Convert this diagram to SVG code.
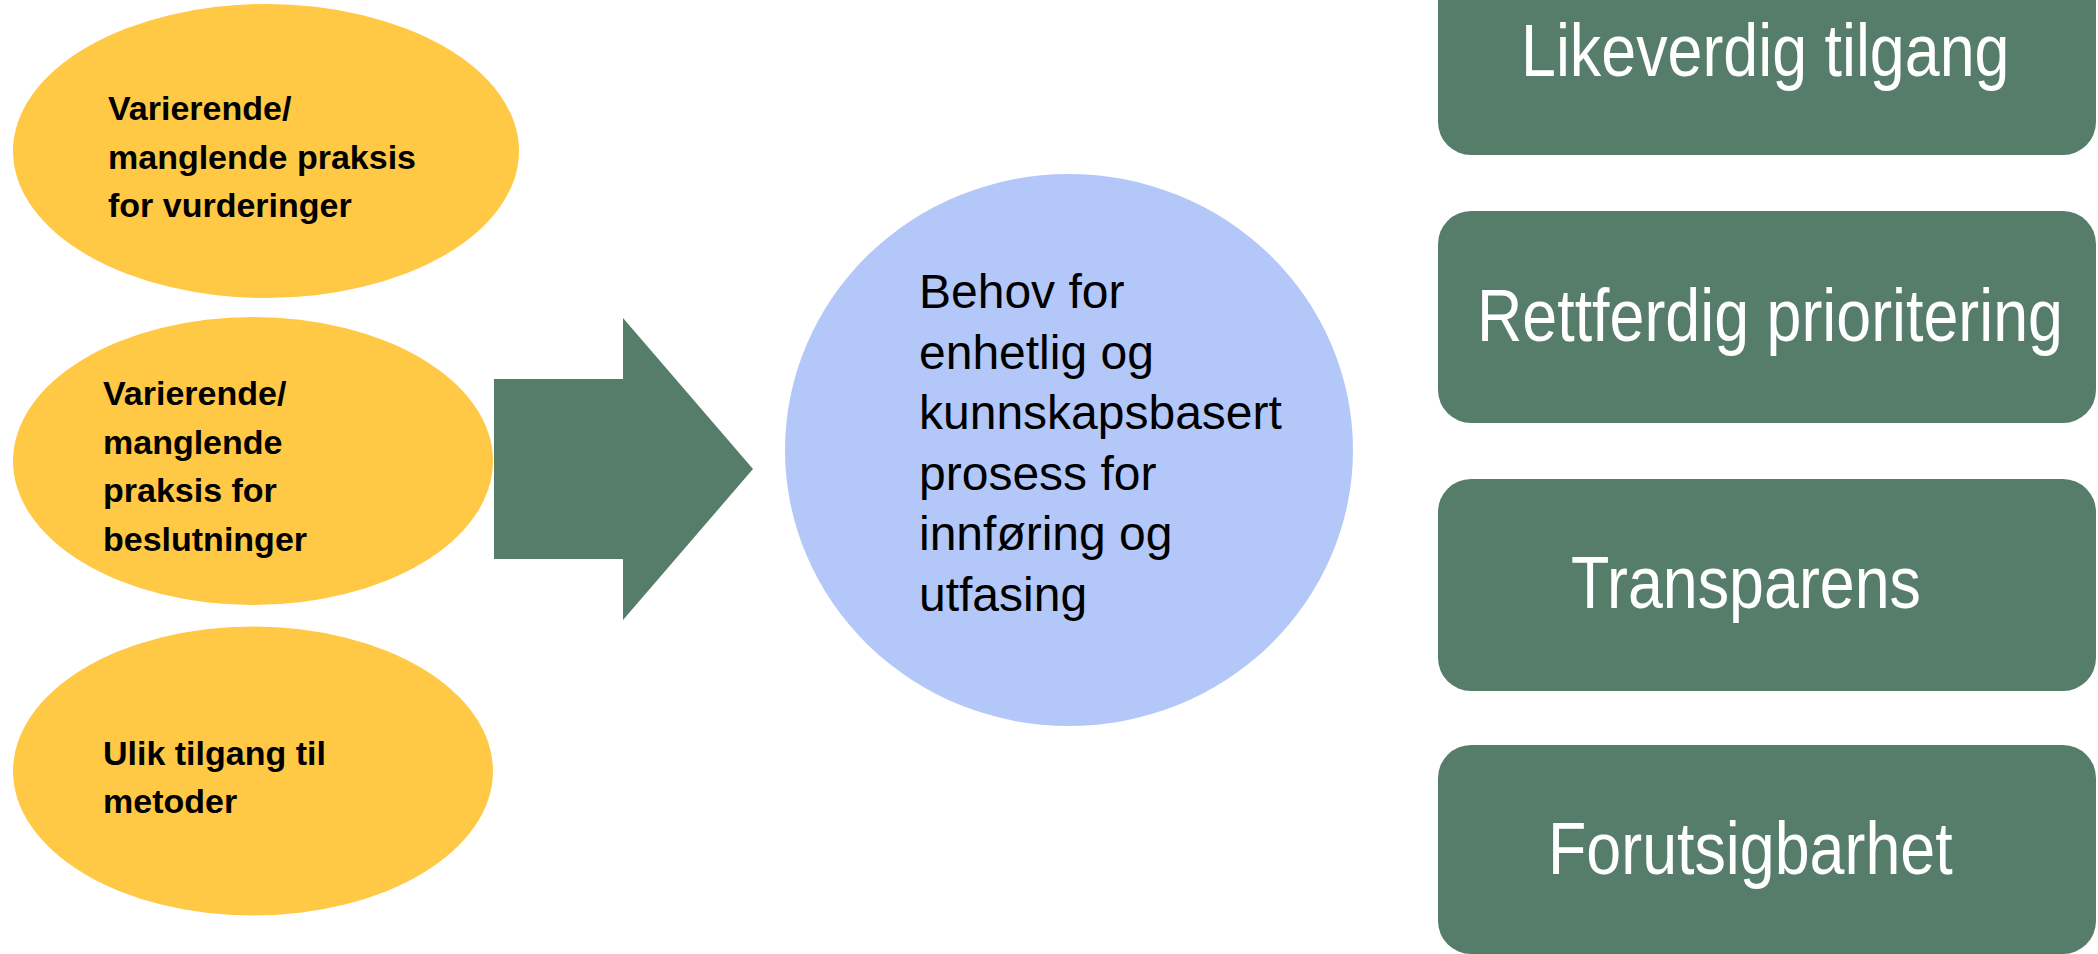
<svg xmlns="http://www.w3.org/2000/svg" width="2098" height="954" viewBox="0 0 2098 954">
<style>
.prob{fill:#FFC845}
.bold{font-family:"Liberation Sans",Arial,sans-serif;font-weight:bold;font-size:34px;fill:#000}
.mid{font-family:"Liberation Sans",Arial,sans-serif;font-size:48px;fill:#000}
.goal{fill:#567D6A}
.gt{font-family:"Liberation Sans",Arial,sans-serif;font-size:75px;fill:#fff}
</style>
<rect width="2098" height="954" fill="#fff"/>
<g id="node-problem1">
<ellipse class="prob" cx="266" cy="151" rx="253" ry="147"/>
<text class="bold"><tspan x="108" y="120">Varierende/</tspan><tspan x="108" y="168.5">manglende praksis</tspan><tspan x="108" y="217">for vurderinger</tspan></text>
</g>
<g id="node-problem2">
<ellipse class="prob" cx="253" cy="461" rx="240" ry="144"/>
<text class="bold"><tspan x="103" y="405">Varierende/</tspan><tspan x="103" y="453.5">manglende</tspan><tspan x="103" y="502">praksis for</tspan><tspan x="103" y="550.5">beslutninger</tspan></text>
</g>
<g id="node-problem3">
<ellipse class="prob" cx="253" cy="771" rx="240" ry="144.5"/>
<text class="bold"><tspan x="103" y="765">Ulik tilgang til</tspan><tspan x="103" y="813">metoder</tspan></text>
</g>
<g id="connectors">
<polygon fill="#567D6A" points="494,379 623,379 623,318 753,469 623,620 623,559 494,559"/>
</g>
<g id="node-need">
<ellipse fill="#B4C7F9" cx="1069" cy="450" rx="284" ry="276"/>
<text class="mid"><tspan x="919" y="308">Behov for</tspan><tspan x="919" y="368.5">enhetlig og</tspan><tspan x="919" y="429">kunnskapsbasert</tspan><tspan x="919" y="489.5">prosess for</tspan><tspan x="919" y="550">innføring og</tspan><tspan x="919" y="610.5">utfasing</tspan></text>
</g>
<g id="node-goal1">
<rect class="goal" x="1438" y="-57" width="658" height="212" rx="33"/>
<text class="gt" transform="translate(1521 76) scale(0.837 1)">Likeverdig tilgang</text>
</g>
<g id="node-goal2">
<rect class="goal" x="1438" y="211" width="658" height="212" rx="33"/>
<text class="gt" transform="translate(1477 341) scale(0.837 1)">Rettferdig prioritering</text>
</g>
<g id="node-goal3">
<rect class="goal" x="1438" y="479" width="658" height="212" rx="33"/>
<text class="gt" transform="translate(1571 608) scale(0.837 1)">Transparens</text>
</g>
<g id="node-goal4">
<rect class="goal" x="1438" y="745" width="658" height="209" rx="33"/>
<text class="gt" transform="translate(1548 874) scale(0.837 1)">Forutsigbarhet</text>
</g>
</svg>
